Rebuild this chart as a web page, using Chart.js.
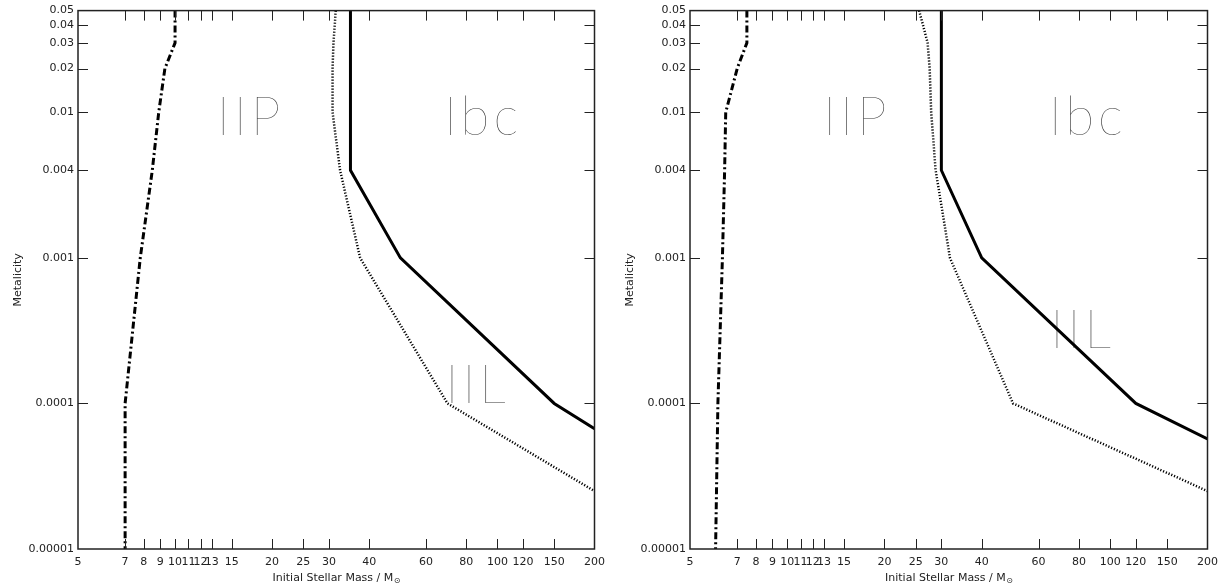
<!DOCTYPE html>
<html>
<head>
<meta charset="utf-8">
<script src="https://cdn.jsdelivr.net/npm/chart.js@4/dist/chart.umd.min.js"></script>
<style>
  body { margin: 0; background: #fff; }
  .panel { position: absolute; top: 0; }
</style>
</head>
<body>
<div class="panel" style="left:0"><canvas id="left" width="612" height="587"></canvas></div>
<div class="panel" style="left:612px"><canvas id="right" width="613" height="587"></canvas></div>
<script>
// axis ticks
const massTicks = [5, 7, 8, 9, 10, 11, 12, 13, 15, 20, 25, 30, 40, 60, 80, 100, 120, 150, 200];
const zTicks = [0.00001, 0.0001, 0.001, 0.004, 0.01, 0.02, 0.03, 0.04, 0.05];
const zLabels = ["0.00001", "0.0001", "0.001", "0.004", "0.01", "0.02", "0.03", "0.04", "0.05"];

// left panel boundaries (mass, metallicity)
const leftSolidM = [35, 35, 50, 150, 200];
const leftSolidZ = [0.05, 0.004, 0.001, 0.0001, 0.000067];
const leftDotM = [31.5, 31.3, 31, 30.8, 30.8, 32.5, 37.5, 70, 200];
const leftDotZ = [0.05, 0.04, 0.03, 0.02, 0.01, 0.004, 0.001, 0.0001, 0.000025];
const leftDashM = [10, 10, 9.3, 8.9, 8.5, 7.8, 7, 7];
const leftDashZ = [0.05, 0.03, 0.02, 0.01, 0.004, 0.001, 0.0001, 0.00001];

// right panel boundaries
const rightSolidM = [30, 30, 40, 120, 200];
const rightSolidZ = [0.05, 0.004, 0.001, 0.0001, 0.000057];
const rightDotM = [25.6, 26.3, 27.2, 27.6, 27.9, 28.8, 31.9, 50, 200];
const rightDotZ = [0.05, 0.04, 0.03, 0.02, 0.01, 0.004, 0.001, 0.0001, 0.000025];
const rightDashM = [7.5, 7.5, 7.0, 6.45, 6.4, 6.3, 6.1, 6.0];
const rightDashZ = [0.05, 0.03, 0.02, 0.01, 0.004, 0.001, 0.0001, 0.00001];

// region names, anchored in data coordinates (centre, baseline)
const leftRegions = [
  { text: "IIP", m: 16.9, z: 0.007 },
  { text: "Ibc", m: 89, z: 0.007 },
  { text: "IIL", m: 85.6, z: 0.0001 }
];
const rightRegions = [
  { text: "IIP", m: 16.2, z: 0.007 },
  { text: "Ibc", m: 84, z: 0.007 },
  { text: "IIL", m: 81, z: 0.00024 }
];

const tickFont = { family: "'DejaVu Sans', sans-serif", size: 11 };

function pts(ms, zs) {
  return ms.map((m, i) => ({ x: m, y: zs[i] }));
}

// frame, inward tick marks, region labels and axis titles
const framePlugin = {
  id: "frame",
  beforeDatasetsDraw(chart) {
    const { ctx, scales: { x, y } } = chart;
    ctx.save();
    ctx.fillStyle = "#333";
    ctx.font = "100 53px Lato, Inter, sans-serif";
    ctx.letterSpacing = "4px";
    ctx.textAlign = "center";
    ctx.textBaseline = "alphabetic";
    chart.options.plugins.frame.regions.forEach(r => {
      ctx.fillText(r.text, x.getPixelForValue(r.m) + 2, y.getPixelForValue(r.z));
    });
    ctx.restore();
  },
  afterDraw(chart) {
    const { ctx, chartArea: a, scales: { x, y } } = chart;
    ctx.save();
    ctx.strokeStyle = "#222";
    ctx.lineWidth = 1.5;
    ctx.strokeRect(a.left, a.top, a.right - a.left, a.bottom - a.top);
    ctx.lineWidth = 1;
    ctx.beginPath();
    massTicks.slice(1, -1).forEach(v => {
      const px = Math.round(x.getPixelForValue(v)) + 0.5;
      ctx.moveTo(px, a.bottom); ctx.lineTo(px, a.bottom - 10);
      ctx.moveTo(px, a.top); ctx.lineTo(px, a.top + 10);
    });
    zTicks.slice(1, -1).forEach(v => {
      const py = Math.round(y.getPixelForValue(v)) + 0.5;
      ctx.moveTo(a.left, py); ctx.lineTo(a.left + 10, py);
      ctx.moveTo(a.right, py); ctx.lineTo(a.right - 10, py);
    });
    ctx.stroke();

    // x title with subscript sun symbol
    ctx.fillStyle = "#222";
    ctx.font = "11px 'DejaVu Sans', sans-serif";
    ctx.textBaseline = "alphabetic";
    const main = "Initial Stellar Mass / M";
    const w1 = ctx.measureText(main).width;
    ctx.font = "8px 'DejaVu Sans', sans-serif";
    const sun = "\u2299";
    const w2 = ctx.measureText(sun).width;
    const cx = (a.left + a.right) / 2;
    const x0 = cx - (w1 + w2) / 2;
    ctx.textAlign = "left";
    ctx.font = "11px 'DejaVu Sans', sans-serif";
    ctx.fillText(main, x0, 581);
    ctx.font = "8px 'DejaVu Sans', sans-serif";
    ctx.fillText(sun, x0 + w1 + 0.5, 583);

    // y title
    ctx.font = "11px 'DejaVu Sans', sans-serif";
    ctx.translate(21, (a.top + a.bottom) / 2);
    ctx.rotate(-Math.PI / 2);
    ctx.textAlign = "center";
    ctx.fillText("Metalicity", 0, 0);
    ctx.restore();
  }
};

function makePanel(id, solidM, solidZ, dotM, dotZ, dashM, dashZ, regions) {
  const ctx = document.getElementById(id).getContext("2d");
  return new Chart(ctx, {
    type: "scatter",
    data: {
      datasets: [
        {
          data: pts(solidM, solidZ), showLine: true, borderColor: "#000",
          borderWidth: 3, pointRadius: 0, borderJoinStyle: "miter"
        },
        {
          data: pts(dotM, dotZ), showLine: true, borderColor: "#000",
          borderWidth: 2.5, borderDash: [1.2, 1.8], pointRadius: 0
        },
        {
          data: pts(dashM, dashZ), showLine: true, borderColor: "#000",
          borderWidth: 3, borderDash: [7, 3, 2, 3], pointRadius: 0
        }
      ]
    },
    options: {
      responsive: false,
      animation: false,
      events: [],
      layout: { padding: { left: 0, top: 8, right: 16, bottom: 0 } },
      plugins: {
        legend: { display: false },
        tooltip: { enabled: false },
        frame: { regions: regions }
      },
      scales: {
        x: {
          type: "logarithmic", min: 5, max: 200,
          grid: { display: false, drawTicks: false },
          border: { display: false },
          afterBuildTicks: s => { s.ticks = massTicks.map(v => ({ value: v })); },
          afterFit: s => { s.height = 38; },
          ticks: {
            autoSkip: false, maxRotation: 0, minRotation: 0, padding: 7,
            color: "#222", font: tickFont,
            callback: v => String(v)
          }
        },
        y: {
          type: "logarithmic", min: 0.00001, max: 0.05,
          grid: { display: false, drawTicks: false },
          border: { display: false },
          afterBuildTicks: s => { s.ticks = zTicks.map(v => ({ value: v })); },
          afterFit: s => { s.width = 78; },
          ticks: {
            autoSkip: false, padding: 4, color: "#222", font: tickFont,
            callback: (v, i) => zLabels[i]
          }
        }
      }
    },
    plugins: [framePlugin]
  });
}

makePanel("left", leftSolidM, leftSolidZ, leftDotM, leftDotZ, leftDashM, leftDashZ, leftRegions);
makePanel("right", rightSolidM, rightSolidZ, rightDotM, rightDotZ, rightDashM, rightDashZ, rightRegions);
</script>
</body>
</html>
